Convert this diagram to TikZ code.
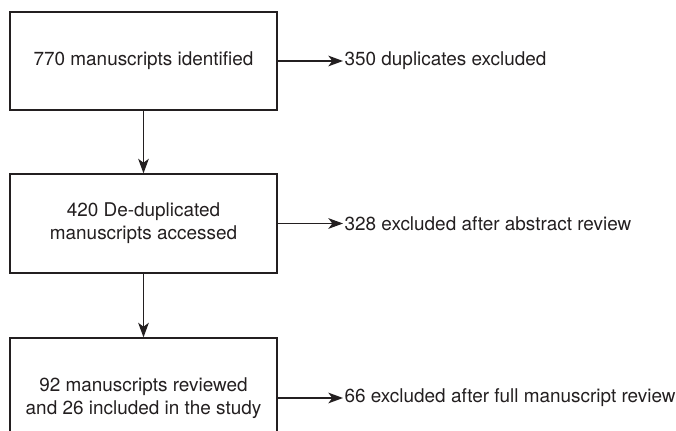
\documentclass[tikz,border=0pt]{standalone}
\usepackage{fontspec}
\setmainfont{TeX Gyre Heros}
\usetikzlibrary{positioning,arrows.meta}
\definecolor{ink}{HTML}{231F20}
\begin{document}
\begin{tikzpicture}[font=\fontsize{14.2}{17.2}\selectfont,>={Stealth[length=11pt,width=8pt,inset=3pt]},x=0.75pt,y=-0.75pt,
  stagebox/.style={draw=ink,line width=0.9pt,text=ink,align=center,minimum width=200.25pt,inner sep=0pt},
  dropnote/.style={anchor=west,text=ink,inner sep=1pt},
  flow/.style={->,draw=ink,line width=0.9pt}]
\useasboundingbox (0,0) rectangle (676,431);
% ---------------- screening stages ----------------
\node[stagebox,minimum height=73.5pt] (ident) at (143.5,61) {770 manuscripts identified};
\node[stagebox,minimum height=74.25pt] (dedup) at (143.5,223.5) {420 De-duplicated\\manuscripts accessed};
\node[stagebox,minimum height=90pt] (review) at (143.5,398) {92 manuscripts reviewed\\and 26 included in the study};
% ---------------- exclusions ----------------
\node[dropnote] (dup) at (343,61) {350 duplicates excluded};
\node[dropnote] (absx) at (343,223.5) {328 excluded after abstract review};
\node[dropnote] (fullx) at (343,398) {66 excluded after full manuscript review};
% arrows
\draw[flow] (ident.south) -- (dedup.north);
\draw[flow] (dedup.south) -- (review.north);
\draw[flow] (ident.east) -- (dup.west);
\draw[flow] (dedup.east) -- (absx.west);
\draw[flow] (review.east) -- (fullx.west);
\end{tikzpicture}
\end{document}
